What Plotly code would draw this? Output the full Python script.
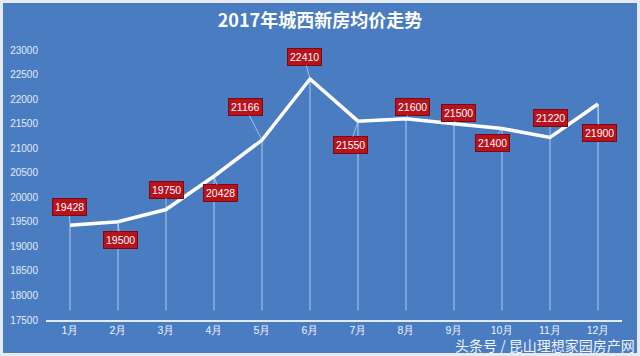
import plotly.graph_objects as go

months = ["1月", "2月", "3月", "4月", "5月", "6月", "7月", "8月", "9月", "10月", "11月", "12月"]
prices = [19428, 19500, 19750, 20428, 21166, 22410, 21550, 21600, 21500, 21400, 21220, 21900]
label_dx = [-1, 2, 0, 6, -17, -6, -8, 6, 4, -10, 0, 1]
label_dy = [-18, 18, -20, 17, -33, -22, 24, -12, -11, 14, -19, 29]
y_ticks = list(range(17500, 23001, 500))
y_tick_text = [str(v) for v in y_ticks]

W, H = 640, 356
ML, MR, MT, MB = 46, 18, 50, 36
PW, PH = W - ML - MR, H - MT - MB
BLUE = "#4a7cc2"

def px_x(p):
    return (p - ML) / PW

def px_y(p):
    return (H - MB - p) / PH

fig = go.Figure()

# drop lines
dx, dy = [], []
for m, v in zip(months, prices):
    dx += [m, m, None]
    dy += [v, 17700, None]
fig.add_trace(go.Scatter(x=dx, y=dy, mode="lines",
                         line=dict(color="rgba(210,228,255,0.75)", width=1),
                         hoverinfo="skip", showlegend=False))

fig.add_trace(go.Scatter(x=months, y=prices, mode="lines",
                         line=dict(color="white", width=3.5),
                         showlegend=False))

for m, v, ax, ay in zip(months, prices, label_dx, label_dy):
    fig.add_annotation(x=m, y=v, text=str(v), showarrow=True, ax=ax, ay=ay,
                       arrowhead=0, arrowwidth=1, arrowcolor="rgba(200,220,255,0.7)",
                       standoff=0, startstandoff=0,
                       font=dict(family="Liberation Sans", size=10.5, color="white"),
                       bgcolor="#b8121c", bordercolor="#7a0a10", borderwidth=1, borderpad=2)

fig.add_annotation(xref="paper", yref="paper", x=px_x(637), y=px_y(345),
                   xanchor="right", yanchor="middle", showarrow=False,
                   text="头条号 / 昆山理想家园房产网",
                   font=dict(family="Noto Sans CJK SC", size=14, color="rgba(255,255,255,0.95)"))

fig.add_shape(type="rect", xref="paper", yref="paper", layer="below",
              x0=px_x(3), x1=px_x(637), y0=px_y(353), y1=px_y(3),
              fillcolor=BLUE, line=dict(width=0))

fig.update_layout(
    width=W, height=H,
    margin=dict(l=ML, r=MR, t=MT, b=MB, autoexpand=False),
    paper_bgcolor="#e6ebf1",
    plot_bgcolor="rgba(0,0,0,0)",
    title=dict(text="<b>2017年城西新房均价走势</b>", x=0.5, xanchor="center",
               y=1 - 21 / H, yanchor="middle",
               font=dict(family="Noto Sans CJK SC", size=18, color="white")),
    xaxis=dict(type="category", range=[-0.5, 11.5], showgrid=False, automargin=False,
               showline=True, linecolor="rgba(235,242,255,0.95)", linewidth=1.5,
               ticks="", tickfont=dict(family="Liberation Sans", size=10.5, color="#eef3fb"),
               fixedrange=True),
    yaxis=dict(range=[17500, 23000], tickvals=y_ticks, ticktext=y_tick_text,
               showgrid=False, zeroline=False, automargin=False,
               showline=False, ticks="", ticklabelstandoff=7,
               tickfont=dict(family="Liberation Sans", size=10, color="#e3ebf7"),
               fixedrange=True),
)

fig.write_html("out.html", post_script="document.body.style.margin='0';",
               config={"displayModeBar": False})
